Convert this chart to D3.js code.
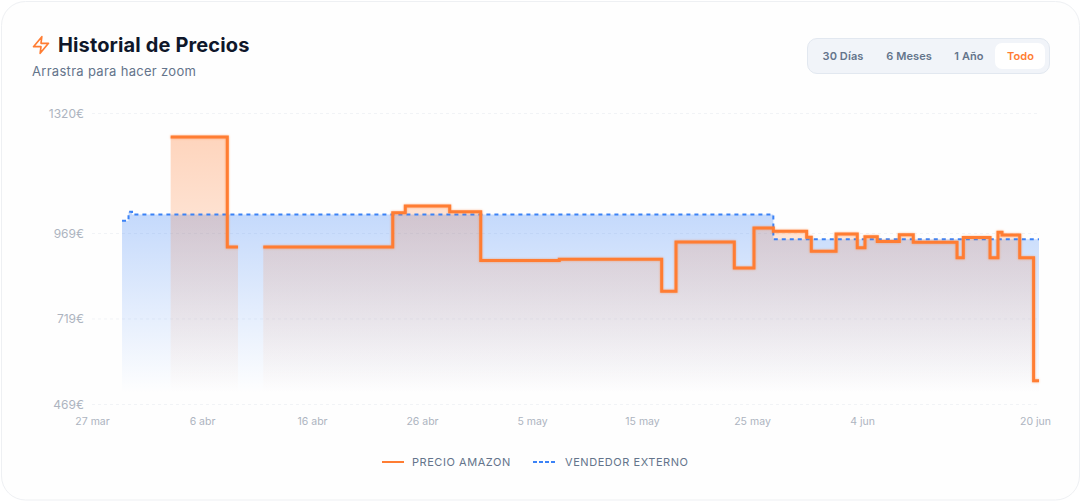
<!DOCTYPE html>
<html><head><meta charset="utf-8">
<script src="https://cdn.jsdelivr.net/npm/d3@7/dist/d3.min.js"></script>
<style>
html,body{margin:0;padding:0;background:#fff;overflow:hidden}
svg{display:block}
text{font-family:Inter,sans-serif}
</style></head><body><svg id="c" width="1081" height="501"></svg>
<script>
const xTickPositions=[0,10,20,30,40,50,60,70,86];
const xTickLabels=["27 mar","6 abr","16 abr","26 abr","5 may","15 may","25 may","4 jun","20 jun"];
const yTicks=[469,719,969,1320];
// Amazon price: step start position on the axis and value (null = no data)
const amazonPos=[7.15,12.3,13.27,13.27,15.57,27.34,28.48,32.52,35.34,42.48,51.79,53.09,58.39,60.18,61.94,64.97,65.39,67.64,69.57,70.27,71.39,73.39,74.66,78.64,79.21,81.64,82.36,82.73,84.34,85.6,86.09];
const amazonVal=[1250,928,928,null,928,1028,1048,1031,889,892,799,943,867,984,974,957,916,966,926,958,944,964,942,897,956,897,971,963,897,537,537];
const sellerPos=[2.73,3.32,3.64,61.94,86.09];
const sellerVal=[1005,1031,1023,951,951];
const tabs=["30 Días","6 Meses","1 Año","Todo"];
const legendItems=["PRECIO AMAZON","VENDEDOR EXTERNO"];

const ORANGE="#ff7d33",BLUE="#3b82f6";
const svg=d3.select("#c");
const x=d3.scaleLinear().domain([0,86]).range([92,1038]);
const y=d3.scaleLinear().domain([469,1320]).range([404,113]);
const baseY=393;

// card
svg.append("rect").attr("x",1.5).attr("y",1.5).attr("width",1078).attr("height",498.5).attr("rx",24)
  .attr("fill","#fefefe").attr("stroke","#eef0f3");

// gradients
const defs=svg.append("defs");
function grad(id,color,op,top){
  const g=defs.append("linearGradient").attr("id",id).attr("gradientUnits","userSpaceOnUse")
    .attr("x1",0).attr("x2",0).attr("y1",top).attr("y2",baseY);
  g.append("stop").attr("offset",0).attr("stop-color",color).attr("stop-opacity",op);
  g.append("stop").attr("offset",1).attr("stop-color",color).attr("stop-opacity",0);
}
grad("gA",ORANGE,0.32,y(d3.max(amazonVal)));
grad("gB",BLUE,0.3,y(d3.max(sellerVal)));

// header
svg.append("polygon").attr("points","13 2 3 14 12 14 11 22 21 10 12 10 13 2")
  .attr("transform","translate(31,35) scale(.833)").attr("fill","none").attr("stroke",ORANGE)
  .attr("stroke-width",2).attr("stroke-linejoin","round").attr("stroke-linecap","round");
svg.append("text").attr("x",58).attr("y",51.5).attr("font-size",20).attr("font-weight",700).attr("letter-spacing",".13").attr("fill","#0f172a").text("Historial de Precios");
svg.append("text").attr("x",32).attr("y",76).attr("font-size",13).attr("fill","#64748b").attr("letter-spacing",".3").text("Arrastra para hacer zoom");

// tabs
svg.append("rect").attr("x",807.5).attr("y",38.5).attr("width",242).attr("height",35).attr("rx",9.5).attr("fill","#f1f4f9").attr("stroke","#e2e8f0");
svg.append("rect").attr("x",995).attr("y",43).attr("width",50).attr("height",26).attr("rx",7).attr("fill","#fff");
const tabX=[843,909,969,1020.5];
svg.selectAll(".tab").data(tabs).join("text").attr("class","tab").attr("x",(d,i)=>tabX[i]).attr("y",60)
  .attr("text-anchor","middle").attr("font-size",11).attr("font-weight",600).attr("letter-spacing",".1")
  .attr("fill",(d,i)=>i===3?ORANGE:"#64748b").text(d=>d);

// grid & axes
svg.append("g").selectAll("line").data(yTicks).join("line")
  .attr("x1",92).attr("x2",1038).attr("y1",d=>y(d)+.5).attr("y2",d=>y(d)+.5)
  .attr("stroke","#f1f3f6").attr("stroke-dasharray","3 3");
const ya=svg.append("g").attr("transform","translate(92,0.2)")
  .call(d3.axisLeft(y).tickValues(yTicks).tickFormat(d=>d+"€").tickSize(0).tickPadding(8));
ya.select(".domain").remove();
ya.selectAll("text").attr("font-size",12).attr("fill","#adb4c0").style("font-family","Inter,sans-serif");
const xa=svg.append("g").attr("transform","translate(0,404)")
  .call(d3.axisBottom(x).tickValues(xTickPositions).tickFormat((d,i)=>xTickLabels[i]).tickSize(0).tickPadding(11));
xa.select(".domain").remove();
xa.selectAll("text").attr("y",14).attr("font-size",10.5).attr("fill","#adb4c0").style("font-family","Inter,sans-serif");
xa.selectAll("text").filter((d,i)=>i===xTickLabels.length-1).attr("dx",-3);

// series
const rows=(p,v)=>p.map((d,i)=>({p:d,v:v[i]}));
const area=d3.area().defined(d=>d.v!==null).curve(d3.curveStepAfter).x(d=>x(d.p)).y0(baseY).y1(d=>y(d.v));
const line=d3.line().defined(d=>d.v!==null).curve(d3.curveStepAfter).x(d=>x(d.p)).y(d=>y(d.v));
const A=rows(amazonPos,amazonVal),S=rows(sellerPos,sellerVal);
svg.append("path").attr("d",area(S)).attr("fill","url(#gB)");
svg.append("path").attr("d",area(A)).attr("fill","url(#gA)");
svg.append("path").attr("d",line(S)).attr("fill","none").attr("stroke",BLUE).attr("stroke-width",2).attr("stroke-dasharray","4 4");
svg.append("path").attr("d",line(A)).attr("fill","none").attr("stroke",ORANGE).attr("stroke-width",3)
  .style("filter","drop-shadow(0 0 1.2px rgba(255,125,51,.55))");

// legend
const lg=svg.append("g");
[[382,412,ORANGE,null],[533,565,BLUE,"4 2"]].forEach((c,i)=>{
  lg.append("line").attr("x1",c[0]).attr("x2",c[0]+22).attr("y1",462).attr("y2",462).attr("stroke",c[2]).attr("stroke-width",2).attr("stroke-dasharray",c[3]);
  lg.append("text").attr("x",c[1]).attr("y",466).attr("font-size",11).attr("letter-spacing",".55").attr("fill","#64748b").text(legendItems[i]);
});
</script></body></html>
